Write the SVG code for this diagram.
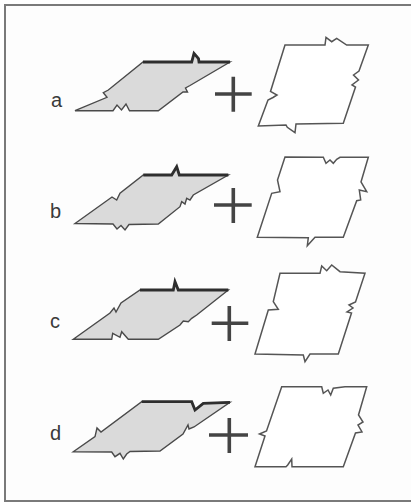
<svg xmlns="http://www.w3.org/2000/svg" width="411" height="504" viewBox="0 0 411 504">
  <style>
    .frame { fill: #fdfdfd; stroke: #7a7a7a; stroke-width: 2; }
    .piece { fill: #dadada; stroke: #4a4a4a; stroke-width: 1.4; stroke-linejoin: miter; }
    .edge { fill: none; stroke: #2e2e2e; stroke-width: 2.8; stroke-linejoin: miter; }
    .mate { fill: #ffffff; stroke: #555555; stroke-width: 1.5; stroke-linejoin: miter; }
    .plus { stroke: #444444; stroke-width: 3.6; stroke-linecap: butt; }
    .label { font-family: "Liberation Sans", Arial, sans-serif; font-size: 20px; fill: #3a3a3a; }
  </style>

  <!-- outer panel -->
  <rect class="frame" x="5" y="5" width="412" height="496"/>

  <!-- row a -->
  <g id="label-a"><text class="label" x="51" y="107">a</text></g>
  <g id="piece-a">
    <path class="piece" d="M75,110.7 L113,110.7 L117,105 L121.5,110 L126,104 L129.5,110.7 L158.3,110.7 L183,92 L187.5,92 L185.5,88 L190,85.5 L230,62 L199,62 L198.5,58.5 L194,53.3 L191.7,62 L143,62 L108.3,90 L103.3,92.7 L107,97.3 Z"/>
    <path class="edge" d="M143,62 L191.7,62 L194,53.3 L198.5,58.5 L199,62 L230,62"/>
  </g>
  <g id="plus-a"><path class="plus" d="M215,94 H251.7 M233.3,76.7 V111.7"/></g>
  <g id="mate-a">
    <path class="mate" d="M285,45 L325,45 L326,37.3 L331.7,41.7 L336.7,38.3 L346.7,45 L368.3,45 L359,71 L353.5,75 L358.5,80 L352,85 L355.5,87 L343.3,123.3 L296,124 L295,132.7 L287.3,127.3 L286,125 L258.3,126 L268,100 L273,97.5 L277,95 L270.5,91.5 Z"/>
  </g>

  <!-- row b -->
  <g id="label-b"><text class="label" x="50" y="218">b</text></g>
  <g id="piece-b">
    <path class="piece" d="M75,223.5 L113,224 L117,229 L121,225.5 L125,230 L129,224.5 L158.3,224 L180,206.7 L181.7,201.7 L185,204 L186.7,198.3 L190,200 L193.3,195 L228.3,175 L179.3,175 L176.7,166.7 L171.7,175 L143.3,175 L120,193.3 L116.7,200 L112,197 Z"/>
    <path class="edge" d="M143.3,175 L171.7,175 L176.7,166.7 L179.3,175 L228.3,175"/>
  </g>
  <g id="plus-b"><path class="plus" d="M214,205 H251.7 M233.3,188 V223"/></g>
  <g id="mate-b">
    <path class="mate" d="M285,157 L323.3,157.3 L326,163.3 L330,160 L333.3,163.3 L336.7,159.3 L340,157.3 L368.3,157.3 L361,182 L366.7,191.7 L359.3,190 L360.7,200 L356.7,200.7 L343.3,237.3 L315,237.3 L307.3,245.7 L308.3,237.8 L257.3,237.3 L271.7,193.3 L280,191.7 L277.5,180 Z"/>
  </g>

  <!-- row c -->
  <g id="label-c"><text class="label" x="50" y="328">c</text></g>
  <g id="piece-c">
    <path class="piece" d="M73.3,339.3 L111.7,339.3 L112.7,333.3 L120,337.3 L121.7,331.7 L128.3,339.3 L158.3,339.3 L180,325 L183.3,321 L188.3,321.7 L191.7,318.3 L196.7,315 L228.3,290 L178.3,290 L175,281.7 L173.3,290 L140,290 L121,303 L116,312 L114,308 L110,313 Z"/>
    <path class="edge" d="M140,290 L173.3,290 L175,281.7 L178.3,290 L228.3,290"/>
  </g>
  <g id="plus-c"><path class="plus" d="M211.7,323.3 H248.3 M229.3,306 V341"/></g>
  <g id="mate-c">
    <path class="mate" d="M280,273.3 L320,273.3 L321.7,266 L326.7,270.7 L331.7,265 L340,271.7 L365,273.3 L355.5,302 L349,305 L353,308 L347,312 L351.5,313 L338.3,354 L310,354 L305,361.7 L303.3,355 L255,354 L268.3,310 L278.3,309.3 L273.3,301.7 Z"/>
  </g>

  <!-- row d -->
  <g id="label-d"><text class="label" x="50" y="440">d</text></g>
  <g id="piece-d">
    <path class="piece" d="M73.3,451.7 L111.7,452 L115,456.7 L120,453.3 L123.3,459 L126.7,454 L130,451.5 L160,451 L183,434 L188,425 L189,429 L194,427 L230,402.3 L203.3,403.3 L195,410 L191.7,401.7 L141.7,401.7 L101,432 L97,428 L95,436.7 Z"/>
    <path class="edge" d="M141.7,401.7 L191.7,401.7 L195,410 L203.3,403.3 L230,402.3"/>
  </g>
  <g id="plus-d"><path class="plus" d="M209,435 H248 M229.3,418 V453"/></g>
  <g id="mate-d">
    <path class="mate" d="M281.7,386.7 L321.7,386.7 L323.3,393.3 L328,390 L330.7,395 L333.3,388.3 L345,386.7 L366.7,386.7 L358.5,415 L363,422 L358,425 L362,432 L355.5,433 L343.3,466.7 L292,466.7 L291.7,459 L287.7,465 L286,466.7 L255,466.7 L265,436 L259.5,434 L266.5,431 Z"/>
  </g>
</svg>
